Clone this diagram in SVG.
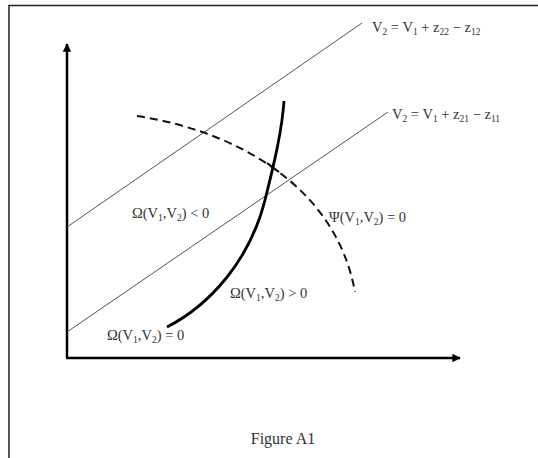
<svg xmlns="http://www.w3.org/2000/svg" width="538" height="458" viewBox="0 0 538 458">
<style>
text{font-family:"Liberation Serif","Times New Roman",serif;font-size:14.5px;fill:#333}
.sub{font-size:9.5px}
.thin{stroke:#555;stroke-width:1;fill:none}
.axis{stroke:#000;stroke-width:2.5;fill:none}
</style>
<defs>
<marker id="ah" viewBox="0 0 10 10" refX="9" refY="5" markerWidth="3.4" markerHeight="3.4" orient="auto" markerUnits="strokeWidth">
<path d="M0,0 L10,5 L0,10 Z" fill="#000"/>
</marker>
</defs>
<rect width="538" height="458" fill="#fff"/>
<g id="frame" stroke="#222" stroke-width="1.5" fill="none">
<path d="M9,458 V5.5 H538"/>
</g>
<g id="connectors">
<line id="y-axis" class="axis" x1="67" y1="358" x2="67" y2="44" marker-end="url(#ah)"/>
<line id="x-axis" class="axis" x1="66" y1="358" x2="460" y2="358" marker-end="url(#ah)"/>
<line id="line-upper" class="thin" x1="67" y1="227" x2="362" y2="23"/>
<line id="line-lower" class="thin" x1="67" y1="332" x2="388" y2="112"/>
<path id="psi-curve" d="M137,116 C230,130 335,182 355,292" fill="none" stroke="#111" stroke-width="2" stroke-dasharray="8,5"/>
<path id="omega-curve" d="M167,327 C210,305 250,260 265,200 C275,160 282,130 284,101" fill="none" stroke="#000" stroke-width="2.8"/>
<line x1="267" y1="163" x2="279" y2="172" stroke="#000" stroke-width="2"/>
</g>
<g id="label-upper"><text x="372" y="32">V<tspan class="sub" dy="3">2</tspan><tspan dy="-3"> = V</tspan><tspan class="sub" dy="3">1</tspan><tspan dy="-3"> + z</tspan><tspan class="sub" dy="3">22</tspan><tspan dy="-3"> − z</tspan><tspan class="sub" dy="3">12</tspan></text></g>
<g id="label-lower"><text x="392" y="119">V<tspan class="sub" dy="3">2</tspan><tspan dy="-3"> = V</tspan><tspan class="sub" dy="3">1</tspan><tspan dy="-3"> + z</tspan><tspan class="sub" dy="3">21</tspan><tspan dy="-3"> − z</tspan><tspan class="sub" dy="3">11</tspan></text></g>
<g id="label-omega-neg"><text x="132" y="218">Ω(V<tspan class="sub" dy="3">1</tspan><tspan dy="-3">,V</tspan><tspan class="sub" dy="3">2</tspan><tspan dy="-3">) &lt; 0</tspan></text></g>
<g id="label-psi"><text x="329" y="222">Ψ(V<tspan class="sub" dy="3">1</tspan><tspan dy="-3">,V</tspan><tspan class="sub" dy="3">2</tspan><tspan dy="-3">) = 0</tspan></text></g>
<g id="label-omega-pos"><text x="230" y="298">Ω(V<tspan class="sub" dy="3">1</tspan><tspan dy="-3">,V</tspan><tspan class="sub" dy="3">2</tspan><tspan dy="-3">) &gt; 0</tspan></text></g>
<g id="label-omega-zero"><text x="107" y="340">Ω(V<tspan class="sub" dy="3">1</tspan><tspan dy="-3">,V</tspan><tspan class="sub" dy="3">2</tspan><tspan dy="-3">) = 0</tspan></text></g>
<g id="caption"><text x="283" y="444" text-anchor="middle" style="font-size:16px">Figure A1</text></g>
</svg>
